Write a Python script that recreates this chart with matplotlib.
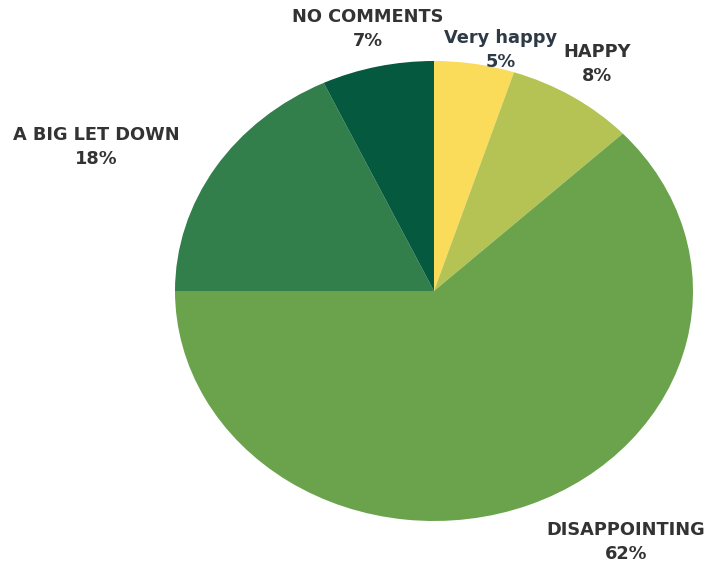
import numpy as np
import matplotlib.pyplot as plt

labels = ['Very happy', 'HAPPY', 'DISAPPOINTING', 'A BIG LET DOWN', 'NO COMMENTS']
shares = [5, 8, 62, 18, 7]
colors = ['#FADB5A', '#B4C353', '#6AA34C', '#337F4B', '#04593F']
text_colors = ['#2E3A46', '#333333', '#333333', '#333333', '#333333']

# label centres in pixels (x, y from top)
label_pos = [(501, 38), (597, 52), (626, 530), (96, 135), (368, 17)]

W, H = 713, 564
cx, cy = 434, 291
rx, ry = 259, 230

fig = plt.figure(figsize=(W / 100, H / 100), dpi=100)
ax = fig.add_axes([0, 0, 1, 1])
ax.pie(shares, colors=colors, startangle=90, counterclock=False,
       radius=1, center=(0, 0), frame=True,
       wedgeprops=dict(linewidth=0))
ax.set_aspect('auto')
ax.set_xlim(-cx / rx, (W - cx) / rx)
ax.set_ylim(-(H - cy) / ry, cy / ry)
ax.axis('off')

def to_data(px, py):
    return (px - cx) / rx, (cy - py) / ry

for lab, s, (px, py), tc in zip(labels, shares, label_pos, text_colors):
    x, y = to_data(px, py)
    ax.text(x, y, lab, ha='center', va='center', fontsize=12.8,
            fontweight='bold', color=tc, family='DejaVu Sans')
    x2, y2 = to_data(px, py + 24)
    ax.text(x2, y2, f'{s}%', ha='center', va='center', fontsize=12.8,
            fontweight='bold', color=tc, family='DejaVu Sans')

fig.savefig('out.png', dpi=100)
